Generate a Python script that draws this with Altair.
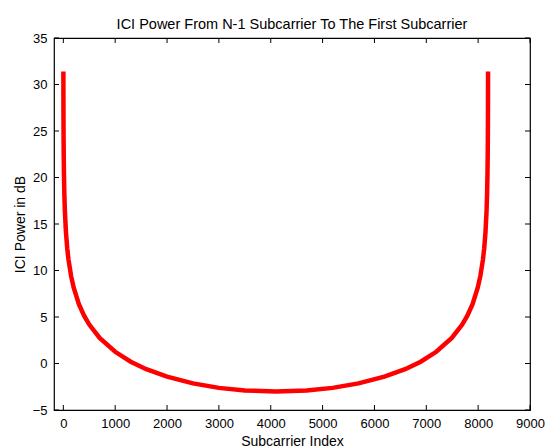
import altair as alt
import pandas as pd

# Subcarrier index and ICI power (dB)
subcarrier = [1, 2, 3, 5, 8, 12, 20, 30, 50, 75, 100, 150, 200, 300, 400, 500, 700,
              1000, 1300, 1600, 2000, 2500, 3000, 3500, 4096,
              4692, 5192, 5692, 6192, 6592, 6892, 7192, 7492, 7692, 7792, 7892, 7992,
              8042, 8092, 8117, 8142, 8162, 8172, 8180, 8184, 8187, 8189, 8190, 8191]
ici_db = [31.15, 28.14, 26.38, 24.16, 22.12, 20.36, 18.14, 16.38, 14.16, 12.40, 11.15, 9.39, 8.15, 6.39, 5.15, 4.19, 2.75,
          1.26, 0.19, -0.61, -1.42, -2.14, -2.62, -2.90, -3.01,
          -2.90, -2.62, -2.14, -1.42, -0.61, 0.19, 1.26, 2.75, 4.19, 5.15, 6.39, 8.15,
          9.39, 11.15, 12.40, 14.16, 16.38, 18.14, 20.36, 22.12, 24.16, 26.38, 28.14, 31.15]

x_ticks = [0, 1000, 2000, 3000, 4000, 5000, 6000, 7000, 8000, 9000]
y_ticks = [-5, 0, 5, 10, 15, 20, 25, 30, 35]

W, H = 476, 372
FONT = "Liberation Sans"

df = pd.DataFrame({"k": subcarrier, "p": ici_db})
dfx = pd.DataFrame({"t": x_ticks})
dfy = pd.DataFrame({"t": y_ticks})

xscale = alt.Scale(domain=[-180, 9000], nice=False, zero=False)
yscale = alt.Scale(domain=[-5, 35], nice=False, zero=False)
common = dict(ticks=False, grid=False, domain=False,
              labelFont=FONT, labelFontSize=13, labelColor="black",
              titleFont=FONT, titleFontSize=14, titleFontWeight="normal", titleColor="black",
              titleBaseline="alphabetic")
xaxis = alt.Axis(values=x_ticks, title="Subcarrier Index", format="d", labelPadding=7,
                 labelFlush=False, titleY=35, **common)
yaxis = alt.Axis(values=y_ticks, title="ICI Power in dB", format="d", labelPadding=7,
                 titleX=-30, **common)

line = alt.Chart(df).mark_line(color="#FF0000", strokeWidth=4.5, strokeCap="square").encode(
    x=alt.X("k:Q", scale=xscale, axis=xaxis),
    y=alt.Y("p:Q", scale=yscale, axis=yaxis),
    order="k:Q",
)

tick_style = dict(color="black", strokeWidth=1)
bottom = alt.Chart(dfx).mark_rule(**tick_style).encode(
    x=alt.X("t:Q", scale=xscale, axis=xaxis), y=alt.value(H), y2=alt.value(H - 5))
top = alt.Chart(dfx).mark_rule(**tick_style).encode(
    x=alt.X("t:Q", scale=xscale, axis=xaxis), y=alt.value(0), y2=alt.value(5))
left = alt.Chart(dfy).mark_rule(**tick_style).encode(
    y=alt.Y("t:Q", scale=yscale, axis=yaxis), x=alt.value(0), x2=alt.value(5))
right = alt.Chart(dfy).mark_rule(**tick_style).encode(
    y=alt.Y("t:Q", scale=yscale, axis=yaxis), x=alt.value(W), x2=alt.value(W - 5))

chart = alt.layer(line, bottom, top, left, right).properties(
    width=W, height=H,
    background="white",
    title=alt.TitleParams("ICI Power From N-1 Subcarrier To The First Subcarrier",
                          font=FONT, fontSize=14.5, fontWeight="normal", color="black",
                          anchor="middle", offset=0),
    autosize=alt.AutoSizeParams(type="none"),
    padding={"left": 54, "top": 38, "right": 16, "bottom": 38},
).configure_view(
    stroke="black", strokeWidth=1.2
)

chart.save("out.html", embed_options={"renderer": "svg", "actions": False})
